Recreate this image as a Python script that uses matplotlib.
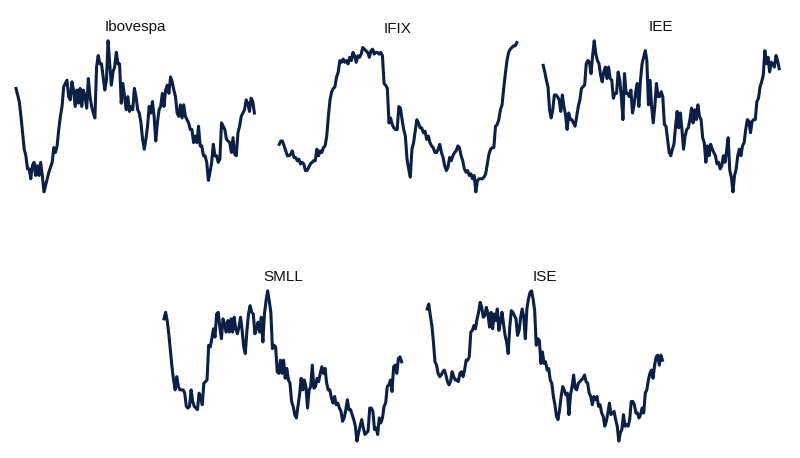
import matplotlib
matplotlib.use("Agg")
import matplotlib.pyplot as plt
import numpy as np

plt.rcParams['font.family'] = ['Liberation Sans Narrow', 'Liberation Sans', 'DejaVu Sans']

# index levels (arbitrary units, higher = up)
ibovespa = [325, 305, 285, 240, 190, 140, 120, 80, 80, 50, 90, 100, 60, 90, 60, 100, 60, 10, 30, 50,
            70, 85, 100, 145, 130, 150, 200, 240, 270, 330, 340, 350, 300, 290, 345, 320, 270, 320, 280, 325,
            270, 320, 300, 265, 355, 300, 270, 250, 235, 390, 425, 400, 400, 360, 320, 350, 470, 400, 335, 375,
            390, 435, 400, 400, 280, 340, 300, 260, 300, 255, 270, 260, 325, 300, 260, 250, 220, 170, 140, 170,
            210, 270, 250, 285, 240, 165, 220, 260, 270, 310, 270, 320, 335, 310, 360, 345, 320, 300, 250, 240,
            275, 235, 275, 240, 230, 220, 200, 200, 160, 180, 160, 210, 150, 150, 120, 120, 100, 45, 70, 100,
            155, 120, 120, 100, 110, 220, 210, 200, 170, 165, 160, 130, 175, 125, 120, 190, 210, 240, 250, 260,
            290, 280, 255, 295, 285, 250]

ifix = [155, 165, 165, 150, 135, 120, 120, 125, 135, 115, 115, 105, 110, 95, 100, 95, 75, 75, 85, 95,
        100, 105, 105, 140, 120, 135, 130, 145, 150, 180, 240, 290, 315, 325, 330, 360, 375, 410, 405, 415,
        405, 410, 400, 420, 410, 435, 425, 405, 425, 420, 430, 450, 445, 440, 435, 420, 440, 445, 430, 435,
        435, 430, 435, 425, 340, 335, 325, 220, 235, 215, 205, 200, 200, 270, 265, 230, 200, 180, 110, 80,
        55, 140, 160, 195, 230, 220, 205, 205, 190, 195, 170, 180, 160, 150, 145, 130, 130, 140, 155, 130,
        115, 90, 75, 85, 115, 105, 120, 130, 135, 150, 145, 120, 105, 80, 70, 75, 60, 65, 50, 60,
        10, 45, 50, 50, 50, 55, 65, 95, 125, 140, 145, 145, 210, 215, 230, 260, 275, 325, 370, 410,
        435, 445, 450, 455, 455, 465]

iee = [395, 375, 350, 330, 260, 235, 260, 305, 305, 300, 290, 255, 305, 270, 245, 200, 250, 230, 230, 220,
       210, 240, 270, 290, 325, 330, 335, 400, 410, 405, 370, 425, 470, 430, 410, 400, 365, 345, 375, 390,
       355, 390, 355, 350, 295, 310, 310, 375, 350, 300, 230, 370, 310, 310, 300, 320, 250, 275, 315, 340,
       270, 350, 400, 420, 440, 410, 275, 350, 270, 220, 270, 340, 300, 300, 315, 300, 215, 210, 170, 130,
       120, 140, 155, 210, 255, 205, 250, 200, 140, 180, 200, 205, 230, 265, 220, 260, 230, 275, 240, 230,
       175, 160, 100, 150, 120, 155, 140, 130, 120, 95, 100, 80, 90, 120, 100, 135, 175, 75, 55, 10,
       60, 80, 120, 140, 120, 150, 160, 200, 230, 225, 190, 225, 230, 230, 285, 295, 330, 345, 365, 440,
       400, 420, 375, 405, 400, 390, 425, 410, 385]

smll = [385, 405, 380, 340, 290, 240, 200, 170, 210, 180, 170, 170, 170, 160, 120, 115, 120, 170, 135, 120,
        115, 110, 160, 150, 125, 190, 195, 200, 305, 300, 325, 355, 330, 400, 405, 360, 325, 385, 370, 345,
        380, 345, 385, 345, 390, 355, 340, 360, 390, 350, 300, 280, 350, 400, 425, 405, 400, 340, 355, 375,
        345, 390, 315, 400, 440, 470, 440, 405, 295, 305, 300, 225, 220, 260, 220, 260, 205, 235, 200, 190,
        135, 120, 95, 85, 120, 155, 205, 170, 200, 180, 115, 170, 180, 245, 175, 180, 205, 195, 220, 240,
        220, 235, 190, 170, 170, 145, 130, 150, 125, 130, 115, 105, 75, 85, 110, 140, 110, 110, 95, 80,
        60, 15, 40, 60, 80, 55, 35, 40, 45, 115, 115, 105, 50, 55, 35, 85, 70, 85, 120, 130,
        180, 185, 200, 165, 240, 245, 220, 265, 270, 255]

ise = [415, 430, 395, 365, 315, 255, 245, 220, 210, 215, 225, 230, 215, 195, 185, 195, 225, 210, 200, 200,
       195, 220, 225, 210, 230, 260, 260, 270, 345, 350, 365, 355, 385, 405, 435, 420, 390, 395, 420, 400,
       360, 405, 355, 400, 380, 415, 350, 375, 405, 370, 335, 315, 280, 360, 410, 405, 395, 385, 335, 350,
       390, 415, 390, 325, 415, 445, 465, 470, 445, 410, 305, 325, 320, 250, 285, 250, 255, 230, 235, 200,
       190, 150, 125, 90, 80, 110, 150, 180, 170, 155, 160, 95, 155, 180, 215, 175, 170, 190, 195, 200,
       205, 215, 195, 190, 160, 150, 125, 150, 140, 150, 120, 125, 100, 90, 60, 75, 100, 130, 95, 100,
       105, 80, 60, 15, 40, 50, 95, 60, 65, 60, 80, 135, 135, 125, 100, 100, 85, 95, 115, 100,
       160, 170, 200, 220, 230, 205, 245, 270, 275, 245, 275, 260]

titles = ["Ibovespa", "IFIX", "IEE", "SMLL", "ISE"]
series = [ibovespa, ifix, iee, smll, ise]

# [left, bottom, width, height] in figure fraction
boxes = [
    [0.020, 0.581, 0.298, 0.330],
    [0.349, 0.581, 0.297, 0.326],
    [0.679, 0.581, 0.295, 0.330],
    [0.205, 0.037, 0.297, 0.328],
    [0.534, 0.037, 0.294, 0.328],
]

line_color = "#0c1f45"

fig = plt.figure(figsize=(8, 4.58), dpi=100)
for name, vals, box in zip(titles, series, boxes):
    ax = fig.add_axes(box)
    y = np.array(vals, dtype=float)
    x = np.arange(len(y))
    ax.plot(x, y, color=line_color, lw=2.2, solid_joinstyle="round")
    ax.set_xlim(0, len(y) - 1)
    ax.set_ylim(y.min(), y.max())
    ax.set_title(name, fontsize=11, pad=7, color="#111111")
    ax.axis("off")
    for ln in ax.lines:
        ln.set_clip_on(False)

fig.savefig("out.png", dpi=100, facecolor="white")
